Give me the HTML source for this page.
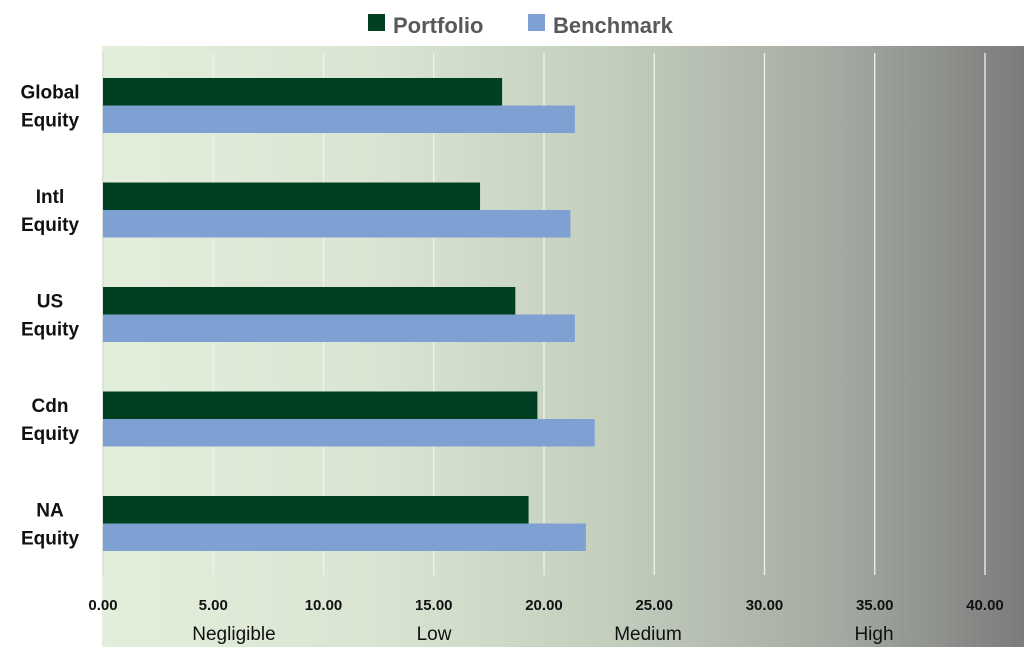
<!DOCTYPE html>
<html><head><meta charset="utf-8"><style>
body{margin:0;width:1024px;height:662px;background:#fff;overflow:hidden;font-family:"Liberation Sans",sans-serif}
</style></head><body>
<svg id="chart" width="1024" height="662" xmlns="http://www.w3.org/2000/svg">
<defs><linearGradient id="bg" x1="0" x2="1" y1="0" y2="0">
<stop offset="0" stop-color="#e3efdb"/><stop offset="0.3" stop-color="#d9e5d2"/><stop offset="0.55" stop-color="#c3cebd"/><stop offset="0.8" stop-color="#a4aaa1"/><stop offset="1" stop-color="#7c7c7c"/></linearGradient></defs>
<rect x="102" y="46" width="922" height="601" fill="url(#bg)"/>
<g id="grid"></g><g id="bars"></g><g id="labels"></g>
<g>
<rect x="368" y="14" width="17" height="17" fill="#013f22"/>
<text x="393" y="33" font-size="22" font-weight="bold" fill="#595959">Portfolio</text>
<rect x="528" y="14" width="17" height="17" fill="#7fa0d3"/>
<text x="553" y="33" font-size="22" font-weight="bold" fill="#595959">Benchmark</text>
</g>
<g font-size="19" fill="#111" text-anchor="middle">
<text x="234" y="640">Negligible</text>
<text x="434" y="640">Low</text>
<text x="648" y="640">Medium</text>
<text x="874" y="640">High</text>
</g>
</svg>
<script>
const categories=[["Global","Equity"],["Intl","Equity"],["US","Equity"],["Cdn","Equity"],["NA","Equity"]];
const portfolio=[18.1,17.1,18.7,19.7,19.3];
const benchmark=[21.4,21.2,21.4,22.3,21.9];
const ticks=[0,5,10,15,20,25,30,35,40];
const NS="http://www.w3.org/2000/svg";
const x=v=>103+v*22.05;
const yc=i=>105.5+i*104.5;
function mk(tag,attrs,parent){const e=document.createElementNS(NS,tag);for(const k in attrs)e.setAttribute(k,attrs[k]);document.getElementById(parent).appendChild(e);return e;}
ticks.forEach(t=>{
  if(t>0){const l=mk('line',{x1:x(t),x2:x(t),y1:53,y2:575,stroke:'#f2f2f2','stroke-width':1.3},'grid');
  
  }
  const tx=mk('text',{x:x(t),y:610,'font-size':15,'font-weight':'bold','text-anchor':'middle',fill:'#111'},'labels');
  tx.textContent=t.toFixed(2);
  
  
});
mk('line',{x1:103,x2:103,y1:53,y2:575,stroke:'#d0d8cc','stroke-width':1},'grid');
categories.forEach((c,i)=>{
  const p=mk('rect',{x:x(0),y:yc(i)-27.5,width:x(portfolio[i])-x(0),height:27.5,fill:'#013f22'},'bars');
  
  
  const b=mk('rect',{x:x(0),y:yc(i),width:x(benchmark[i])-x(0),height:27.5,fill:'#7fa0d3'},'bars');
  
  
  c.forEach((s,j)=>{
    const t=mk('text',{x:50,y:yc(i)-7+j*28,'font-size':19,'font-weight':'bold','text-anchor':'middle',fill:'#111'},'labels');
    t.textContent=s;
    
    
  });
});
</script>
</body></html>
